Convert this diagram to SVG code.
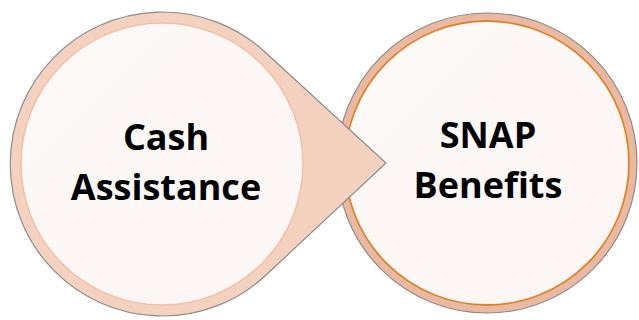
<svg xmlns="http://www.w3.org/2000/svg" width="639" height="320" viewBox="0 0 639 320">
  <style>
    .label { font-family: "Open Sans", "Liberation Sans", sans-serif; font-weight: 700; font-size: 36px; fill: #000; text-anchor: middle; }
    .outline { stroke: #8c8c8c; stroke-width: 1.2; }
  </style>
  <defs>
    <linearGradient id="innerFill" x1="0" y1="0" x2="1" y2="1">
      <stop offset="0" stop-color="#fdf9f7"/>
      <stop offset="1" stop-color="#fbf6f4"/>
    </linearGradient>
  </defs>
  <rect width="639" height="320" fill="#ffffff"/>

  <!-- SNAP Benefits -->
  <g id="snap-benefits">
    <circle cx="487" cy="163" r="150" fill="#ebb9a0" class="outline"/>
    <circle cx="487" cy="163" r="142" fill="url(#innerFill)" stroke="#d9852f" stroke-width="1.8"/>
    <text class="label" x="488" y="148">SNAP</text>
    <text class="label" x="488" y="198">Benefits</text>
  </g>

  <!-- Cash Assistance, with pointer toward the next step -->
  <g id="cash-assistance">
    <path d="M 265 52 A 152 152 0 1 0 265 276 L 386 163 Z" fill="#f5d1c0" class="outline"/>
    <circle cx="162" cy="164" r="141" fill="url(#innerFill)" stroke="#f0c0a8" stroke-width="1.5"/>
    <text class="label" x="166" y="150">Cash</text>
    <text class="label" x="166" y="200">Assistance</text>
  </g>
</svg>
